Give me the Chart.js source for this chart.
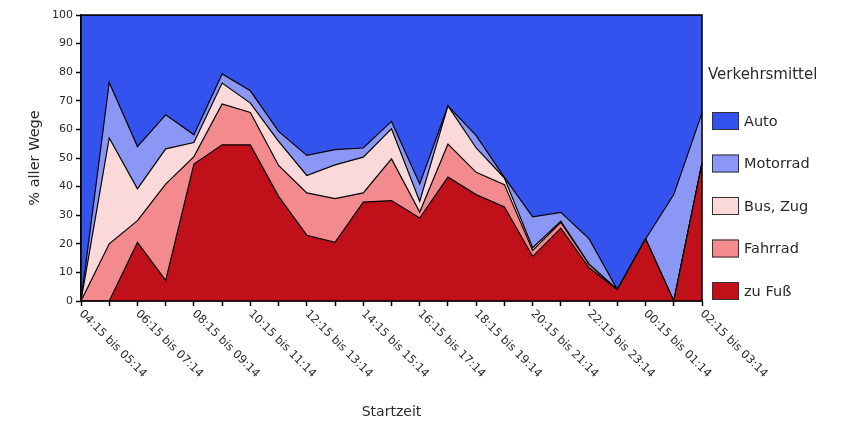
<!DOCTYPE html>
<html>
<head>
<meta charset="utf-8">
<script src="https://cdn.jsdelivr.net/npm/chart.js@4.4.1/dist/chart.umd.min.js"></script>
<style>
  html, body { margin: 0; padding: 0; background: #fff; }
</style>
</head>
<body>
<canvas id="chart" width="845" height="421"></canvas>
<script>
// Startzeit categories (hourly)
const categories = [
  "04:15 bis 05:14", "05:15 bis 06:14", "06:15 bis 07:14", "07:15 bis 08:14",
  "08:15 bis 09:14", "09:15 bis 10:14", "10:15 bis 11:14", "11:15 bis 12:14",
  "12:15 bis 13:14", "13:15 bis 14:14", "14:15 bis 15:14", "15:15 bis 16:14",
  "16:15 bis 17:14", "17:15 bis 18:14", "18:15 bis 19:14", "19:15 bis 20:14",
  "20:15 bis 21:14", "21:15 bis 22:14", "22:15 bis 23:14", "23:15 bis 00:14",
  "00:15 bis 01:14", "01:15 bis 02:14", "02:15 bis 03:14"
];

// % aller Wege per Verkehrsmittel
const zuFuss   = [0, 0, 20.5, 7.2, 47.9, 54.6, 54.6, 36.6, 23, 20.5, 34.6, 35.1, 29, 43.3, 37.2, 32.9, 15.6, 25.5, 11.6, 4, 21.7, 0, 48.2];
const fahrrad  = [0, 20, 7.6, 33.7, 2.6, 14.3, 11.3, 10.8, 14.8, 15.3, 3.2, 14.6, 2.1, 11.6, 7.8, 7.8, 2.1, 2, 1.1, 0, 0, 0, 0];
const busZug   = [0, 37, 11.1, 12.3, 4.9, 7.3, 3.3, 8.4, 6.1, 11.8, 12.5, 10.5, 3.7, 13.3, 8.5, 2.3, 0.9, 0.4, 0.2, 0, 0, 0, 0];
const motorrad = [0, 19.4, 14.8, 11.9, 2.7, 3.2, 4.3, 3.5, 7, 5.3, 3.2, 2.6, 6.1, 0, 4.3, 0.2, 10.8, 3.1, 8.8, 0, 0, 37.2, 17.5];
const auto     = [100, 23.6, 46, 34.9, 41.9, 20.6, 26.5, 40.7, 49.1, 47.1, 46.5, 37.2, 59.1, 31.8, 42.2, 56.8, 70.6, 69, 78.3, 96, 78.3, 62.8, 34.3];

const yTicks = [0, 10, 20, 30, 40, 50, 60, 70, 80, 90, 100];

const textColor = "#2b2b2b";

function series(label, data, color, fill) {
  return {
    label: label,
    data: data,
    backgroundColor: color,
    borderColor: "#000",
    borderWidth: 1.2,
    fill: fill,
    pointRadius: 0,
    tension: 0
  };
}

// x labels rotated downwards to the right, every second hour
const xLabelsPlugin = {
  id: "xLabels",
  afterDraw(chart) {
    const ctx = chart.ctx;
    const xScale = chart.scales.x;
    const bottom = chart.chartArea.bottom;
    ctx.save();
    ctx.font = "11.5px 'DejaVu Sans'";
    ctx.fillStyle = textColor;
    ctx.textAlign = "left";
    ctx.textBaseline = "top";
    categories.forEach((label, i) => {
      if (i % 2 !== 0) return;
      const x = xScale.getPixelForValue(i);
      ctx.save();
      ctx.translate(x + 4, bottom + 7);
      ctx.rotate(Math.PI / 4);
      ctx.fillText(label, 0, 0);
      ctx.restore();
    });
    ctx.restore();
  }
};

// frame round the plot area
const framePlugin = {
  id: "frame",
  afterDraw(chart) {
    const { left, top, right, bottom } = chart.chartArea;
    const ctx = chart.ctx;
    ctx.save();
    ctx.strokeStyle = "#000";
    ctx.lineWidth = 1.5;
    ctx.strokeRect(left, top, right - left, bottom - top);
    ctx.restore();
  }
};

// legend on the right, Auto on top
const legendPlugin = {
  id: "sideLegend",
  afterDraw(chart) {
    const ctx = chart.ctx;
    ctx.save();
    ctx.fillStyle = textColor;
    ctx.textAlign = "left";
    ctx.textBaseline = "middle";
    ctx.font = "15px 'DejaVu Sans'";
    ctx.fillText("Verkehrsmittel", 708, 75);
    const sets = chart.data.datasets.slice().reverse();
    sets.forEach((ds, k) => {
      const yc = 121 + k * 42.5;
      ctx.fillStyle = ds.backgroundColor;
      ctx.fillRect(712, yc - 9, 27, 18);
      ctx.strokeStyle = "#333";
      ctx.lineWidth = 1;
      ctx.strokeRect(712.5, yc - 8.5, 26, 17);
      ctx.fillStyle = textColor;
      ctx.font = "14.5px 'DejaVu Sans'";
      ctx.fillText(ds.label, 744, yc + 1);
    });
    ctx.restore();
  }
};

new Chart(document.getElementById("chart"), {
  type: "line",
  data: {
    labels: categories,
    datasets: [
      series("zu Fuß", zuFuss, "#c0101a", "origin"),
      series("Fahrrad", fahrrad, "#f28a8e", "-1"),
      series("Bus, Zug", busZug, "#fbd9d9", "-1"),
      series("Motorrad", motorrad, "#8b97f4", "-1"),
      series("Auto", auto, "#3453ee", "-1")
    ]
  },
  options: {
    responsive: false,
    animation: false,
    layout: { padding: { top: 15, right: 143, left: 0, bottom: 0 } },
    plugins: {
      legend: { display: false },
      tooltip: { enabled: false }
    },
    scales: {
      x: {
        type: "category",
        offset: false,
        z: 1,
        afterFit(scale) { scale.height = 120; },
        grid: {
          color: "rgba(0,0,0,0.13)",
          tickColor: "#000",
          tickLength: 5,
          tickWidth: 1.5
        },
        border: { color: "#000", width: 1.5 },
        ticks: { display: false },
        title: {
          display: true,
          text: "Startzeit",
          color: textColor,
          font: { family: "DejaVu Sans", size: 14 },
          padding: { top: 0, bottom: 0 }
        }
      },
      y: {
        stacked: true,
        min: 0,
        max: 100,
        afterFit(scale) { scale.width = 81; },
        afterBuildTicks(scale) { scale.ticks = yTicks.map(v => ({ value: v })); },
        grid: {
          drawOnChartArea: false,
          tickColor: "#000",
          tickLength: 5,
          tickWidth: 1.5
        },
        border: { color: "#000", width: 1.5 },
        ticks: {
          color: textColor,
          padding: 3,
          font: { family: "DejaVu Sans", size: 11 }
        },
        title: {
          display: true,
          text: "% aller Wege",
          color: textColor,
          font: { family: "DejaVu Sans", size: 14.5 },
          padding: { top: 27, bottom: 0 }
        }
      }
    }
  },
  plugins: [xLabelsPlugin, framePlugin, legendPlugin]
});
</script>
</body>
</html>
